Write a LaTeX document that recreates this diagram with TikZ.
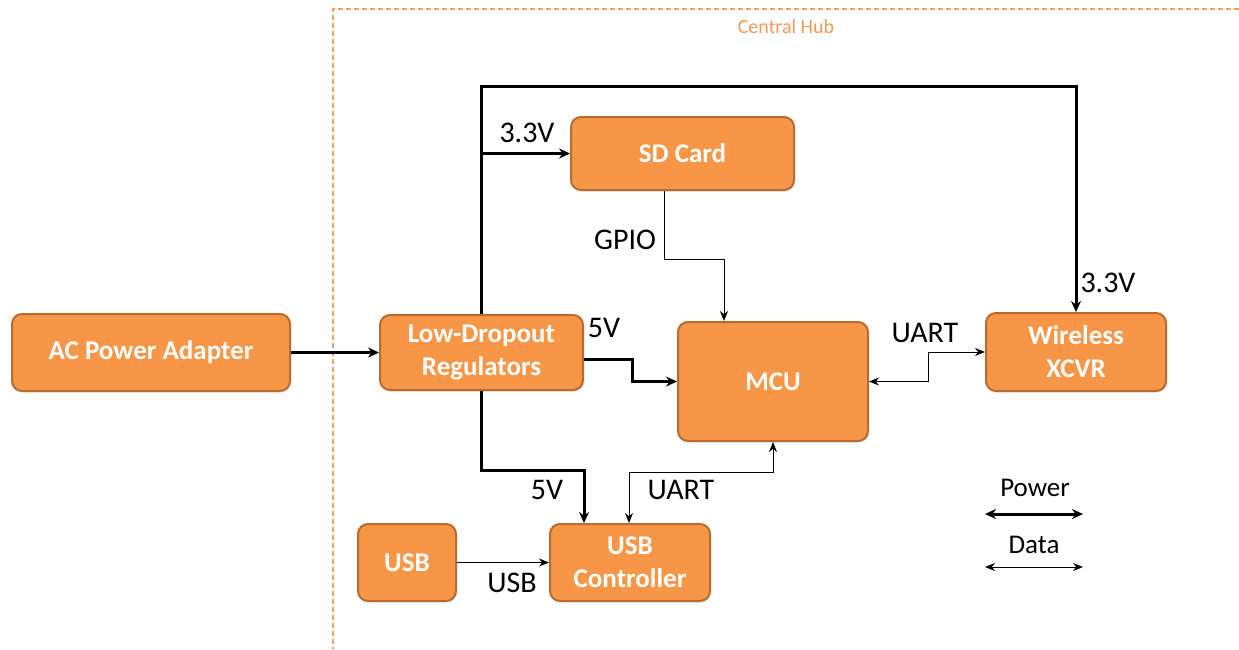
\documentclass[tikz,border=0pt]{standalone}
\usepackage{fontspec}
\setmainfont{Carlito}
\usetikzlibrary{arrows.meta,shadows}
\definecolor{boxfill}{HTML}{F79646}
\definecolor{boxline}{HTML}{B86B2E}
\definecolor{hubline}{HTML}{F39A55}
\definecolor{hubtext}{HTML}{EE9A5A}
\tikzset{
  block/.style={draw=boxline, line width=2pt, fill=boxfill, rounded corners=10pt,
    text=white, align=center, inner sep=0pt,
    font=\fontsize{27}{33}\selectfont\bfseries,
    drop shadow={opacity=0.2, shadow xshift=1pt, shadow yshift=-1.5pt}},
  lbl/.style={font=\fontsize{30}{33}\selectfont, text=black, inner sep=0pt},
  power/.style={line width=3pt, -{Stealth[length=11pt,width=10pt]}},
  data/.style={line width=1pt, -{Stealth[length=10pt,width=8pt]}},
  hub/.style={draw=hubline, line width=1.3pt, dash pattern=on 5pt off 3pt}
}
\begin{document}
\begin{tikzpicture}[x=1pt,y=-1pt]
\useasboundingbox[fill=white] (0,0) rectangle (1239,649);

% Central hub boundary (open towards the right and bottom edges)
\coordinate (hubR) at (1239,9);
\coordinate (hubC) at (333,9);
\coordinate (hubB) at (333,649);
\draw[hub] (hubR) -- (hubC) -- (hubB);
\node[font=\fontsize{20}{24}\selectfont, text=hubtext] (hubtitle) at (786,27) {Central Hub};

% Blocks
\node[block, minimum width=278pt, minimum height=77pt] (ac)   at (151,352.5)  {AC Power Adapter};
\node[block, minimum width=203pt, minimum height=75pt] (ldo)  at (481.5,352.5) {Low-Dropout\\Regulators};
\node[block, minimum width=223pt, minimum height=73pt] (sd)   at (682.5,153.5) {SD Card};
\node[block, minimum width=190pt, minimum height=119pt] (mcu) at (773,381.5)  {MCU};
\node[block, minimum width=180pt, minimum height=78pt] (wx)   at (1076,352)   {Wireless\\XCVR};
\node[block, minimum width=98pt,  minimum height=77pt] (usb)  at (407,562.5)  {USB};
\node[block, minimum width=160pt, minimum height=77pt] (usbc) at (630,562.5)  {USB\\Controller};

% Power paths
\draw[power] (ac.east) -- (ldo.west);
\draw[power] (ldo.north) -- (ldo.north |- 0,86) -| (wx.north);
\draw[power] (ldo.north |- sd.west) -- (sd.west);
\draw[power] ([yshift=-7pt]ldo.east) -- ++(48,0) |- (mcu.west);
\draw[power] (ldo.south) -- (ldo.south |- 0,470) -| ([xshift=-46pt]usbc.north);

% Data paths
\draw[data] ([xshift=-18.5pt]sd.south) -- ++(0,68) -| ([xshift=-49pt]mcu.north);
\draw[data, {Stealth[length=10pt,width=8pt]}-{Stealth[length=10pt,width=8pt]}]
  (mcu.east) -- ++(59,0) |- (wx.west);
\draw[data, {Stealth[length=10pt,width=8pt]}-{Stealth[length=10pt,width=8pt]}]
  (mcu.south) -- ++(0,30) -| ([xshift=-1pt]usbc.north);
\draw[data] (usb.east) -- (usbc.west);

% Connector labels
\node[lbl] (l33a) at (527,133) {3.3V};
\node[lbl] (l33b) at (1108,283) {3.3V};
\node[lbl] (l5a)  at (604,328) {5V};
\node[lbl] (l5b)  at (547,490) {5V};
\node[lbl] (lgp)  at (625,240) {GPIO};
\node[lbl] (lua)  at (925,333) {UART};
\node[lbl] (lub)  at (681,490) {UART};
\node[lbl] (lusb) at (512,583) {USB};

% Legend
\node[lbl, font=\fontsize{27}{30}\selectfont] (legp) at (1035,488) {Power};
\node[lbl, font=\fontsize{27}{30}\selectfont] (legd) at (1034,545) {Data};
\coordinate (pl) at (985,514);
\coordinate (pr) at (1083,514);
\coordinate (dl) at (985,567);
\coordinate (dr) at (1083,567);
\draw[power, {Stealth[length=11pt,width=10pt]}-{Stealth[length=11pt,width=10pt]}] (pl) -- (pr);
\draw[data, {Stealth[length=10pt,width=8pt]}-{Stealth[length=10pt,width=8pt]}] (dl) -- (dr);
\end{tikzpicture}
\end{document}
